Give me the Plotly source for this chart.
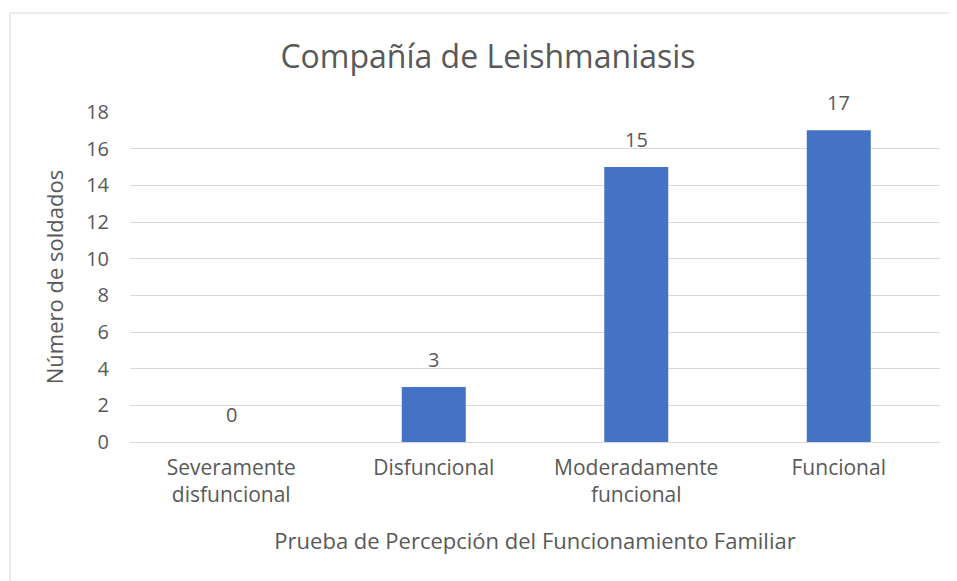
import plotly.graph_objects as go

categories = ["Severamente<br>disfuncional", "Disfuncional", "Moderadamente<br>funcional", "Funcional"]
values = [0, 3, 15, 17]
y_ticks = [0, 2, 4, 6, 8, 10, 12, 14, 16, 18]

FONT = "Open Sans"
TXT = "#595959"

# page body has an 8px margin; compensate so the chart lands where the reference has it
OFF = 8
W, H = 957 - OFF, 581 - OFF
L, T = 130 - OFF, 112 - OFF
R = OFF + W - 940
B = OFF + H - 442
pw, ph = W - L - R, H - T - B

fig = go.Figure()
fig.add_trace(go.Bar(x=categories, y=values, marker=dict(color="#4472C4", line=dict(width=0)),
                     hoverinfo="x+y"))

for c, v in zip(categories, values):
    fig.add_annotation(x=c, y=v, text=str(v), showarrow=False, yanchor="bottom", yshift=12,
                       font=dict(family=FONT, size=20, color=TXT))

fig.add_shape(type="rect", xref="paper", yref="paper",
              x0=(10 - 130) / pw, x1=(1000 - 130) / pw,
              y0=-(650 - 442) / ph, y1=(442 - 13) / ph,
              line=dict(color="#d9d9d9", width=1), fillcolor="rgba(0,0,0,0)", layer="below")

fig.update_layout(
    width=W, height=H,
    margin=dict(l=L, r=R, t=T, b=B),
    paper_bgcolor="white", plot_bgcolor="white",
    bargap=0.684,
    showlegend=False,
    title=dict(text="Compañía de Leishmaniasis", x=(488 - OFF) / W, xanchor="center",
               y=1 - (57 - OFF) / H, yanchor="middle",
               font=dict(family=FONT, size=32, color=TXT)),
    font=dict(family=FONT, color=TXT),
    xaxis=dict(showgrid=False, showline=False, ticks="", ticklabelstandoff=11,
               tickfont=dict(family=FONT, size=21, color=TXT),
               title=dict(text="Prueba de Percepción del Funcionamiento Familiar", standoff=26,
                          font=dict(family=FONT, size=22, color=TXT))),
    yaxis=dict(range=[0, 18], tickvals=y_ticks, showgrid=True, gridcolor="#d9d9d9", gridwidth=1,
               zeroline=True, zerolinecolor="#d9d9d9", zerolinewidth=1, showline=False, ticks="",
               ticklabelstandoff=20,
               tickfont=dict(family=FONT, size=20, color=TXT),
               title=dict(text="Número de soldados", standoff=16,
                          font=dict(family=FONT, size=22, color=TXT))),
)

fig.write_html("out.html")
